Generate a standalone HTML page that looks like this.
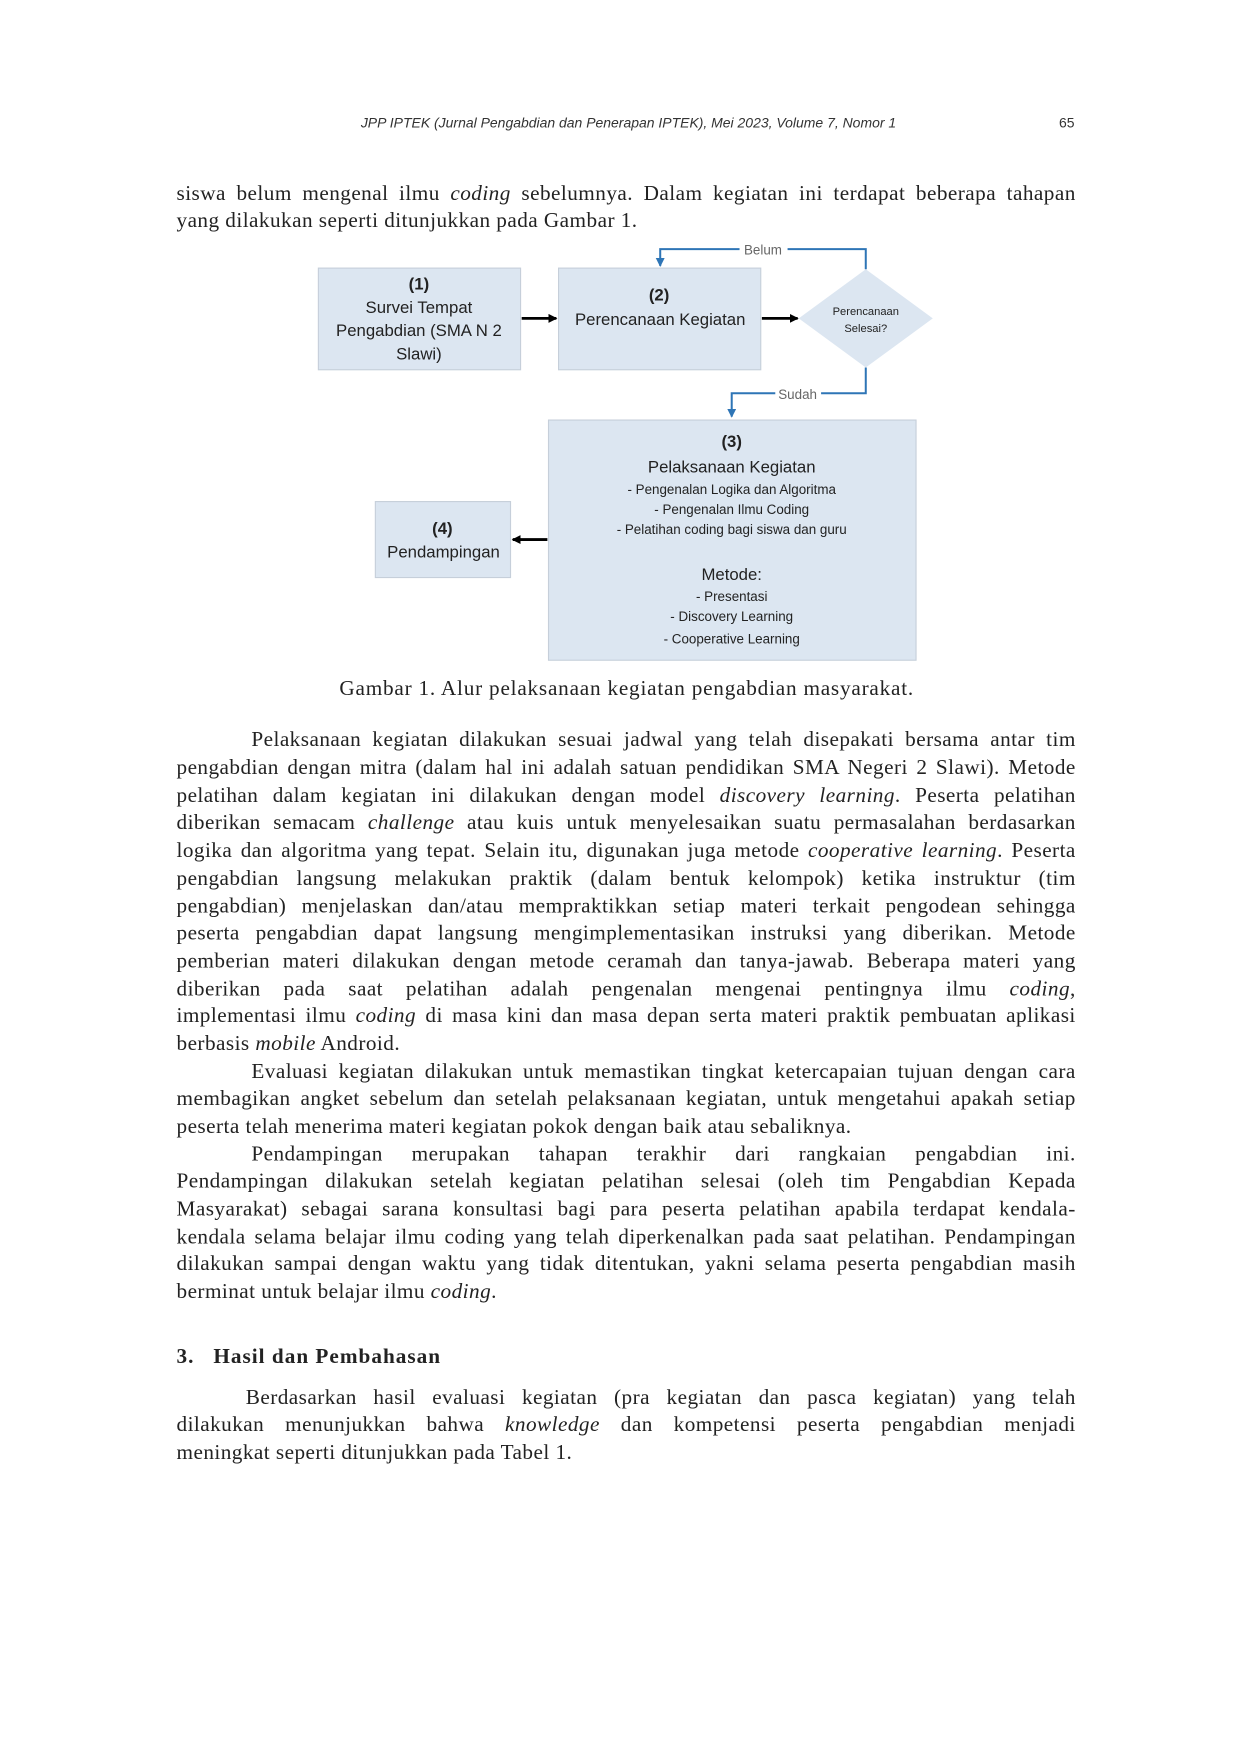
<!DOCTYPE html>
<html><head><meta charset="utf-8">
<style>
html,body{margin:0;padding:0;background:#fff;}
body{width:1240px;height:1754px;overflow:hidden;}
#pg{width:1110px;height:1570px;transform:scale(1.11712);transform-origin:0 0;position:relative;font-family:"Liberation Serif",serif;color:#222;}
.hdr{position:absolute;top:103px;left:0;width:1110px;font-family:"Liberation Sans",sans-serif;font-style:italic;font-size:12.5px;color:#333;}
.l{position:absolute;left:158px;width:805px;font-size:19px;line-height:24px;white-space:nowrap;text-align:justify;text-align-last:justify;letter-spacing:0.4px;margin-top:2px;}
.l.e{text-align-last:left;}
.l.ind{left:225px;width:738px;}
i{font-style:italic;}
svg text{font-family:"Liberation Sans",sans-serif;fill:#222;}
</style></head><body>
<div id="pg">
<div class="hdr"><span style="position:absolute;left:323px;">JPP IPTEK (Jurnal Pengabdian dan Penerapan IPTEK), Mei 2023, Volume 7, Nomor 1</span><span style="position:absolute;left:948px;font-style:normal;">65</span></div>

<div class="l" style="top:160px">siswa belum mengenal ilmu <i>coding</i> sebelumnya. Dalam kegiatan ini terdapat beberapa tahapan</div>
<div class="l e" style="top:184px">yang dilakukan seperti ditunjukkan pada Gambar 1.</div>

<svg style="position:absolute;left:0;top:1px" width="1110" height="640" viewBox="0 0 1110 640">
<defs>
<marker id="ab" markerWidth="8" markerHeight="8" refX="7" refY="4" orient="auto" markerUnits="userSpaceOnUse"><path d="M0,0 L8,4 L0,8 z" fill="#000"/></marker>
<marker id="bl" markerWidth="8" markerHeight="8" refX="7" refY="4" orient="auto" markerUnits="userSpaceOnUse"><path d="M0,0 L8,4 L0,8 z" fill="#2e75b6"/></marker>
</defs>
<g fill="#dce6f1" stroke="#c6cfda" stroke-width="1">
<rect x="285" y="239" width="181" height="91"/>
<rect x="500" y="239" width="181" height="91"/>
<rect x="491" y="375" width="329" height="215"/>
<rect x="336" y="448" width="121" height="68"/>
</g>
<polygon points="775,240 835,284 775,328 715,284" fill="#dce6f1"/>
<g stroke="#000" stroke-width="2.5" fill="none">
<line x1="467" y1="284" x2="498" y2="284" marker-end="url(#ab)"/>
<line x1="682" y1="284" x2="714" y2="284" marker-end="url(#ab)"/>
<line x1="490" y1="482" x2="459" y2="482" marker-end="url(#ab)"/>
</g>
<g stroke="#2e75b6" stroke-width="1.8" fill="none">
<polyline points="775,240 775,222 705,222"/><polyline points="662,222 591,222 591,237" marker-end="url(#bl)"/>
<polyline points="775,328 775,351 735,351"/><polyline points="694,351 655,351 655,372" marker-end="url(#bl)"/>
</g>
<text x="683" y="227" font-size="12" text-anchor="middle" style="fill:#666">Belum</text>
<text x="714" y="356" font-size="12" text-anchor="middle" style="fill:#666">Sudah</text>
<g text-anchor="middle">
<text x="375" y="258" font-size="15" font-weight="bold">(1)</text>
<text x="375" y="279" font-size="15">Survei Tempat</text>
<text x="375" y="300" font-size="15">Pengabdian (SMA N 2</text>
<text x="375" y="321" font-size="15">Slawi)</text>
<text x="590" y="268" font-size="15" font-weight="bold">(2)</text>
<text x="591" y="290" font-size="15">Perencanaan Kegiatan</text>
<text x="775" y="281" font-size="10">Perencanaan</text>
<text x="775" y="296" font-size="10">Selesai?</text>
<text x="655" y="399" font-size="15" font-weight="bold">(3)</text>
<text x="655" y="422" font-size="15">Pelaksanaan Kegiatan</text>
<text x="655" y="441" font-size="12">- Pengenalan Logika dan Algoritma</text>
<text x="655" y="459" font-size="12">- Pengenalan Ilmu Coding</text>
<text x="655" y="477" font-size="12">- Pelatihan coding bagi siswa dan guru</text>
<text x="655" y="518" font-size="15">Metode:</text>
<text x="655" y="537" font-size="12">- Presentasi</text>
<text x="655" y="555" font-size="12">- Discovery Learning</text>
<text x="655" y="575" font-size="12">- Cooperative Learning</text>
<text x="396" y="477" font-size="15" font-weight="bold">(4)</text>
<text x="397" y="498" font-size="15">Pendampingan</text>
</g>
</svg>

<div style="position:absolute;top:605px;left:0;width:1122px;text-align:center;font-size:19px;line-height:24px;letter-spacing:0.7px;">Gambar 1. Alur pelaksanaan kegiatan pengabdian masyarakat.</div>

<div class="l ind" style="top:649px">Pelaksanaan kegiatan dilakukan sesuai jadwal yang telah disepakati bersama antar tim</div>
<div class="l" style="top:674px">pengabdian dengan mitra (dalam hal ini adalah satuan pendidikan SMA Negeri 2 Slawi). Metode</div>
<div class="l" style="top:699px">pelatihan dalam kegiatan ini dilakukan dengan model <i>discovery learning</i>. Peserta pelatihan</div>
<div class="l" style="top:723px">diberikan semacam <i>challenge</i> atau kuis untuk menyelesaikan suatu permasalahan berdasarkan</div>
<div class="l" style="top:748px">logika dan algoritma yang tepat. Selain itu, digunakan juga metode <i>cooperative learning</i>. Peserta</div>
<div class="l" style="top:773px">pengabdian langsung melakukan praktik (dalam bentuk kelompok) ketika instruktur (tim</div>
<div class="l" style="top:798px">pengabdian) menjelaskan dan/atau mempraktikkan setiap materi terkait pengodean sehingga</div>
<div class="l" style="top:822px">peserta pengabdian dapat langsung mengimplementasikan instruksi yang diberikan. Metode</div>
<div class="l" style="top:847px">pemberian materi dilakukan dengan metode ceramah dan tanya-jawab. Beberapa materi yang</div>
<div class="l" style="top:872px">diberikan pada saat pelatihan adalah pengenalan mengenai pentingnya ilmu <i>coding</i>,</div>
<div class="l" style="top:896px">implementasi ilmu <i>coding</i> di masa kini dan masa depan serta materi praktik pembuatan aplikasi</div>
<div class="l e" style="top:921px">berbasis <i>mobile</i> Android.</div>
<div class="l ind" style="top:946px">Evaluasi kegiatan dilakukan untuk memastikan tingkat ketercapaian tujuan dengan cara</div>
<div class="l" style="top:970px">membagikan angket sebelum dan setelah pelaksanaan kegiatan, untuk mengetahui apakah setiap</div>
<div class="l e" style="top:995px">peserta telah menerima materi kegiatan pokok dengan baik atau sebaliknya.</div>
<div class="l ind" style="top:1020px">Pendampingan merupakan tahapan terakhir dari rangkaian pengabdian ini.</div>
<div class="l" style="top:1044px">Pendampingan dilakukan setelah kegiatan pelatihan selesai (oleh tim Pengabdian Kepada</div>
<div class="l" style="top:1069px">Masyarakat) sebagai sarana konsultasi bagi para peserta pelatihan apabila terdapat kendala-</div>
<div class="l" style="top:1094px">kendala selama belajar ilmu coding yang telah diperkenalkan pada saat pelatihan. Pendampingan</div>
<div class="l" style="top:1118px">dilakukan sampai dengan waktu yang tidak ditentukan, yakni selama peserta pengabdian masih</div>
<div class="l e" style="top:1143px">berminat untuk belajar ilmu <i>coding</i>.</div>

<div class="l e" style="top:1201px;font-weight:bold;letter-spacing:0.9px;">3.&nbsp;&nbsp;&nbsp;Hasil dan Pembahasan</div>

<div class="l ind" style="top:1238px;left:220px;width:743px;">Berdasarkan hasil evaluasi kegiatan (pra kegiatan dan pasca kegiatan) yang telah</div>
<div class="l" style="top:1262px">dilakukan menunjukkan bahwa <i>knowledge</i> dan kompetensi peserta pengabdian menjadi</div>
<div class="l e" style="top:1287px">meningkat seperti ditunjukkan pada Tabel 1.</div>
</div>
</body></html>
